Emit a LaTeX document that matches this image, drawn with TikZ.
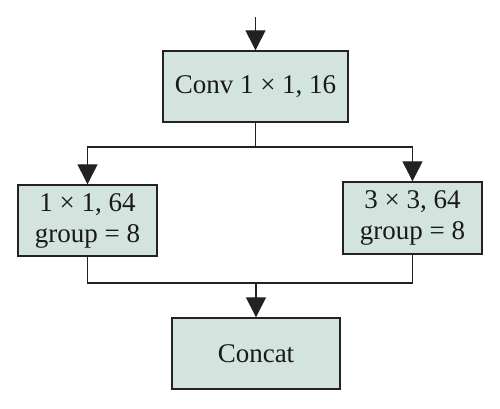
\documentclass[tikz,border=0pt]{standalone}
\usepackage{fontspec}
\setmainfont{Liberation Serif}
\usetikzlibrary{arrows.meta}
\definecolor{boxfill}{HTML}{D3E4DE}
\definecolor{linecol}{HTML}{222222}
\begin{document}
\begin{tikzpicture}[x=1pt,y=-1pt,
  blk/.style={draw=linecol,fill=boxfill,line width=1.4pt,inner sep=0pt,
    align=center,font=\fontsize{27}{31}\selectfont,text=black!90},
  conn/.style={draw=linecol,line width=1.3pt},
  arr/.style={conn,-{Triangle[width=20pt,length=20pt]}}]
\useasboundingbox (0,0) rectangle (500,408);
\node[blk,minimum width=185pt,minimum height=71pt] (conv) at (255.5,86.5) {Conv 1 × 1, 16};
\node[blk,minimum width=139pt,minimum height=71pt] (left) at (87.5,220.5) {1 × 1, 64\\group = 8};
\node[blk,minimum width=139pt,minimum height=72pt] (right) at (412.5,218) {3 × 3, 64\\group = 8};
\node[blk,minimum width=168pt,minimum height=71pt] (concat) at (256,353.5) {Concat};
\coordinate (in) at (255.5,17);
\coordinate (split) at (255.5,147);
\coordinate (merge) at (256,283);
\draw[arr] (in) -- (conv.north);
\draw[conn] (conv.south) -- (split);
\draw[arr] (split) -| (left.north);
\draw[arr] (split) -| (right.north);
\draw[conn] (left.south) |- (merge);
\draw[conn] (right.south) |- (merge);
\draw[arr] (merge) -- (concat.north);
\end{tikzpicture}
\end{document}
